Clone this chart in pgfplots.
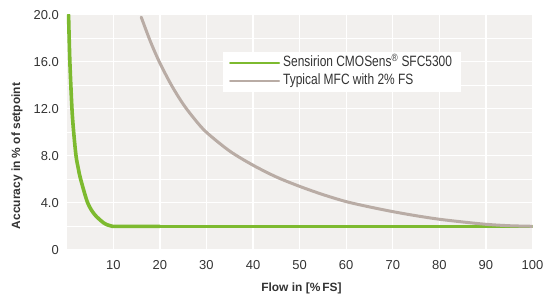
\documentclass[border=0pt]{standalone}
\usepackage{fontspec}
\setmainfont{Liberation Sans}
\newfontfamily\legendfont{Liberation Sans}[FakeStretch=0.8]
\usepackage{pgfplots}
\pgfplotsset{compat=1.18}
\definecolor{bgc}{HTML}{F2F0EE}
\definecolor{sgreen}{HTML}{7DBA2F}
\definecolor{mgray}{HTML}{B9ACA5}
\definecolor{txt}{HTML}{333333}
\begin{document}
\begin{tikzpicture}
\begin{axis}[
  scale only axis,
  width=465.8bp, height=235bp,
  xmin=0, xmax=100, ymin=0, ymax=20,
  axis background/.style={fill=bgc},
  axis line style={draw=none},
  major tick length=0pt, minor tick length=0pt,
  xtick={10,20,...,100},
  xticklabels={10,20,30,40,50,60,70,80,90,100},
  ytick={0,4,8,12,16,20},
  yticklabels={0,4.0,8.0,12.0,16.0,20.0},
  minor ytick={2,6,10,14,18},
  grid=both,
  major grid style={white, line width=1.3bp},
  minor grid style={white, line width=1.3bp},
  /pgf/number format/assume math mode=true,
  tick label style={font=\fontsize{13}{15}\selectfont, text=txt},
  xticklabel style={anchor=north, inner sep=0pt, yshift=-10.7bp},
  yticklabel style={anchor=east, inner sep=0pt, xshift=-7.7bp},
  xlabel={Flow in [\%\,FS]},
  ylabel={Accuracy in \% of setpoint},
  label style={font=\bfseries\fontsize{12}{14}\selectfont, text=txt},
  xlabel style={at={(axis description cs:0.504,0)}, anchor=center, yshift=-38.2bp},
  ylabel style={at={(axis description cs:-0.1067,0.399)}, anchor=center},
  legend style={at={(axis description cs:0.3356,0.8417)}, anchor=north west,
    fill=white, draw=none, inner xsep=6bp, inner ysep=2bp, row sep=0pt,
    font=\legendfont\fontsize{15}{17}\selectfont, text=txt,
    nodes={inner ysep=1.6bp, inner xsep=3bp, text height=11bp, text depth=3.5bp}},
  legend cell align=left,
  legend image code/.code={\draw[#1, line width=2bp] (0bp,0bp) -- (49bp,0bp);},
]
\addplot[sgreen, line width=3.6bp, smooth, line cap=round] coordinates {
 (0.4,20) (0.68,16) (1.13,12) (1.5,10) (2.0,8) (2.45,7) (3.0,6) (4.5,4) (6.0,3) (7.9,2.3) (8.9,2.1) (9.8,2.0) (12,2.0) (20,2.0)
};
\addplot[sgreen, line width=3.6bp, forget plot] coordinates {(20,2.0) (100,2.0)};
\addplot[mgray, line width=3bp, smooth, line cap=round] coordinates {
 (16,19.8) (18,17.7) (20,15.9) (22.5,14.0) (25,12.4) (27.5,11.1) (30,10.0) (35,8.4) (40,7.2) (45,6.2) (50,5.4) (55,4.7) (60,4.1) (65,3.65) (70,3.25) (75,2.9) (80,2.6) (85,2.37) (90,2.17) (95,2.05) (100,2.0)
};
\legend{Sensirion CMOSens\textsuperscript{®} SFC5300, Typical MFC with 2\% FS}
\end{axis}
\pgfresetboundingbox
\path (-66.7bp,-57.2bp) rectangle (478.3bp,249.8bp);
\end{tikzpicture}
\end{document}
